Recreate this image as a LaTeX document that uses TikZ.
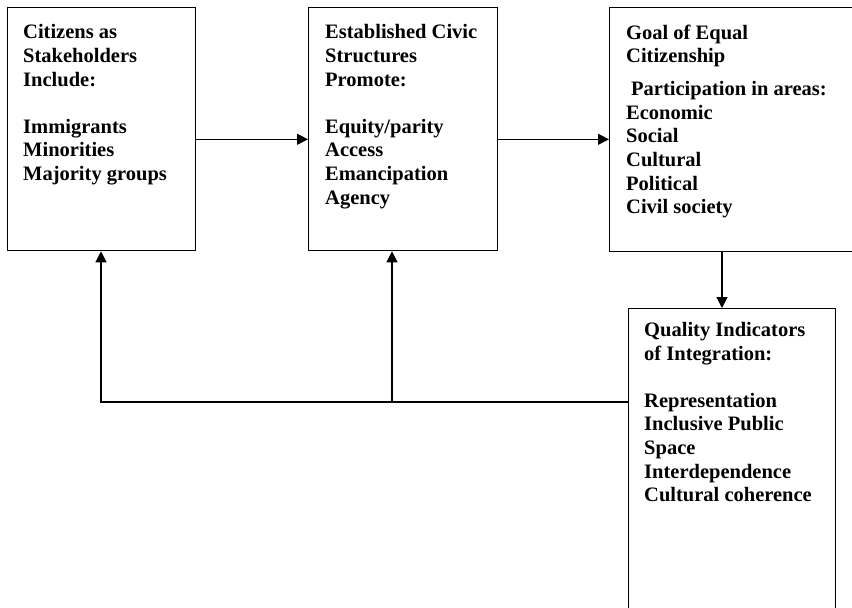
\documentclass[tikz,border=0pt]{standalone}
\usepackage{fontspec}
\setmainfont{Liberation Serif}
\usetikzlibrary{arrows.meta}
\begin{document}
\begin{tikzpicture}[x=1pt,y=-1pt,
  box/.style={draw, line width=1.3pt, anchor=north west, inner sep=0pt, minimum width=#1},
  box/.default=188pt,
  txt/.style={anchor=north west, inner sep=0pt, align=left,
    font=\fontsize{20.5}{23.6}\selectfont\bfseries},
  conn/.style={line width=1.2pt},
  arr/.style={conn, -{Triangle[length=11pt,width=11pt]}}]
\clip (0,0) rectangle (852,608);
% boxes
\node[box=188pt, minimum height=243pt] (b1) at (7,7) {};
\node[box=189pt, minimum height=243pt] (b2) at (308,7) {};
\node[box=261pt, minimum height=244pt] (b3) at (609,7) {};
\node[box=207pt, minimum height=312pt] (b4) at (628,308) {};
% texts
\node[txt] (t1) at (23,24.5) {Citizens as\\Stakeholders\\Include:\\[23.6pt]Immigrants\\Minorities\\Majority groups};
\node[txt] (t2) at (325,24.5) {Established Civic\\Structures\\Promote:\\[23.6pt]Equity/parity\\Access\\Emancipation\\Agency};
\node[txt] (t3) at (626,24.5) {Goal of Equal\\Citizenship\\[9.4pt]\hspace*{5pt}Participation in areas:\\Economic\\Social\\Cultural\\Political\\Civil society};
\node[txt] (t4) at (644,322) {Quality Indicators\\of Integration:\\[23.6pt]Representation\\Inclusive Public\\Space\\Interdependence\\Cultural coherence};
% helper coordinates
\coordinate (r1) at (0,139.3);
\coordinate (fb) at (0,402);
\coordinate (x1) at (101,0);
\coordinate (x2) at (392,0);
\coordinate (x3) at (722,0);
% connectors
\draw[arr] (b1.east |- r1) -- (b2.west |- r1);
\draw[arr] (b2.east |- r1) -- (b3.west |- r1);
\draw[arr] (b3.south -| x3) -- (b4.north -| x3);
\draw[arr] (b4.west |- fb) -- (x1 |- fb) -- (b1.south -| x1);
\draw[arr] (x2 |- fb) -- (b2.south -| x2);
\end{tikzpicture}
\end{document}
